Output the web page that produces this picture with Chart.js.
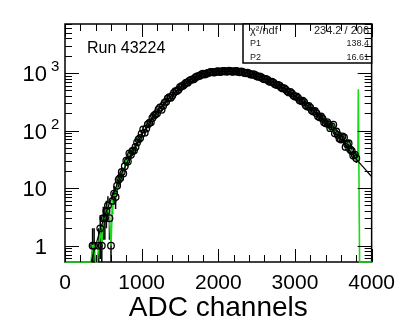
<!DOCTYPE html>
<html>
<head>
<meta charset="utf-8">
<script src="https://cdn.jsdelivr.net/npm/chart.js@4.4.0/dist/chart.umd.min.js"></script>
<style>
  html, body { margin: 0; padding: 0; background: #fff; }
</style>
</head>
<body>
<canvas id="adcChart" width="404" height="326"></canvas>
<script>
// ADC spectrum of run 43224, bins (counts per bin)
const adcBins = [360, 380, 400, 420, 440, 460, 480, 500, 520, 540, 560, 580, 600, 620, 640, 660,
  680, 700, 720, 740, 760, 780, 800, 820, 840, 860, 880, 900, 920, 940, 960, 980,
  1000, 1020, 1040, 1060, 1080, 1100, 1120, 1140, 1160, 1180, 1200, 1220, 1240, 1260, 1280, 1300,
  1320, 1340, 1360, 1380, 1400, 1420, 1440, 1460, 1480, 1500, 1520, 1540, 1560, 1580, 1600, 1620,
  1640, 1660, 1680, 1700, 1720, 1740, 1760, 1780, 1800, 1820, 1840, 1860, 1880, 1900, 1920, 1940,
  1960, 1980, 2000, 2020, 2040, 2060, 2080, 2100, 2120, 2140, 2160, 2180, 2200, 2220, 2240, 2260,
  2280, 2300, 2320, 2340, 2360, 2380, 2400, 2420, 2440, 2460, 2480, 2500, 2520, 2540, 2560, 2580,
  2600, 2620, 2640, 2660, 2680, 2700, 2720, 2740, 2760, 2780, 2800, 2820, 2840, 2860, 2880, 2900,
  2920, 2940, 2960, 2980, 3000, 3020, 3040, 3060, 3080, 3100, 3120, 3140, 3160, 3180, 3200, 3220,
  3240, 3260, 3280, 3300, 3320, 3340, 3360, 3380, 3400, 3420, 3440, 3460, 3480, 3500, 3520, 3540,
  3560, 3580, 3600, 3620, 3640, 3660, 3680, 3700, 3720, 3740, 3760, 3780, 3800];
const counts = [1, 1, 0, 0, 1, 2, 1, 3, 3, 4, 5, 3, 1, 6, 8, 7,
  11, 14, 15, 19, 18, 24, 30, 29, 40, 38, 44, 45, 52, 62, 70, 74,
  88, 105, 92, 108, 128, 135, 140, 165, 182, 190, 200, 232, 251, 230, 270, 305,
  318, 360, 380, 372, 405, 452, 482, 488, 510, 565, 590, 598, 640, 675, 680, 730,
  760, 772, 780, 835, 870, 880, 900, 945, 970, 940, 960, 1000, 1010, 1045, 1040, 1020,
  1030, 1065, 1075, 1040, 1050, 1080, 1090, 1055, 1060, 1095, 1085, 1050, 1055, 1090, 1080, 1045,
  1030, 1060, 1040, 1000, 990, 1010, 985, 945, 930, 955, 925, 880, 860, 870, 845, 800,
  780, 790, 765, 720, 700, 705, 680, 640, 620, 622, 600, 560, 540, 545, 515, 480,
  460, 470, 440, 405, 390, 392, 370, 335, 325, 330, 310, 275, 262, 268, 250, 222,
  214, 218, 200, 178, 170, 175, 160, 140, 134, 140, 128, 110, 118, 126, 90, 96,
  84, 73, 70, 79, 76, 52, 58, 60, 47, 44, 37, 38, 33];

// empty bins below the spectrum and the saturation spike above it (green line only)
const lowEdgeBins = [0, 340];
const lowEdgeCounts = [0, 0];
const highEdgeBins = [3820, 3826, 3843, 4000];
const highEdgeCounts = [29, 520, 0, 0];

// fitted curve
const fitX = [330, 400, 500, 600, 700, 800, 900, 1000, 1100, 1200, 1300, 1400, 1500, 1600, 1700,
  1800, 1900, 2000, 2100, 2200, 2300, 2400, 2500, 2600, 2700, 2800, 2900, 3000, 3100, 3200, 3300,
  3400, 3500, 3600, 3700, 3800, 3900, 4000];
const fitY = [0.45, 1.0, 2.8, 6.3, 13.5, 26.3, 47.9, 83.2, 135, 209, 302, 417, 550, 692, 832,
  955, 1023, 1059, 1072, 1072, 1047, 977, 891, 794, 692, 589, 490, 398, 316, 245, 186,
  138, 100, 69, 47, 32, 22.4, 15.8];

const yTickValues = [1, 10, 100, 1000];
const yTickBase = ["1", "10", "10", "10"];
const yTickExp = ["", "", "2", "3"];

const statNames = ["\u03C7\u00B2/ndf", "P1", "P2"];
const statValues = ["234.2 / 206", "138.4", "16.61"];
const runLabel = "Run 43224";

const FONT = "'Liberation Sans', Arial, sans-serif";
const GREEN = "#16dd16";
const Y_MIN = 0.52;

const toXY = (xs, ys) => xs.map((v, i) => ({ x: v, y: ys[i] }));

// frame and error bars go under the datasets
const errorBars = {
  id: "errorBars",
  beforeDatasetsDraw(chart) {
    const { ctx, chartArea: a, scales: { x, y } } = chart;
    ctx.save();
    ctx.strokeStyle = "#000";
    ctx.lineWidth = 1.5;
    ctx.strokeRect(a.left, a.top, a.right - a.left, a.bottom - a.top);

    ctx.beginPath();
    ctx.rect(a.left, a.top, a.right - a.left, a.bottom - a.top);
    ctx.clip();
    adcBins.forEach((b, i) => {
      const c = counts[i];
      if (!(c > 0)) return;
      const e = Math.sqrt(c);
      const px = x.getPixelForValue(b);
      const lo = c - e > y.min ? y.getPixelForValue(c - e) : a.bottom;
      ctx.beginPath();
      ctx.moveTo(px, y.getPixelForValue(c + e));
      ctx.lineTo(px, lo);
      ctx.stroke();
    });
    ctx.restore();
  }
};

// ROOT style overlay: stats box, inner ticks on all four sides, log labels
const rootFrame = {
  id: "rootFrame",
  afterDraw(chart) {
    const { ctx, chartArea: a, scales: { x, y } } = chart;
    ctx.save();

    // stats box
    const bx = 243, by = a.top, bw = a.right - bx, bh = 39;
    ctx.fillStyle = "#fff";
    ctx.fillRect(bx, by, bw, bh);
    ctx.strokeStyle = "#000";
    ctx.lineWidth = 1.5;
    ctx.strokeRect(bx, by, bw, bh);
    ctx.fillStyle = "#222";
    ctx.textBaseline = "middle";
    const rowY = [31, 43.5, 57.5];
    statNames.forEach((n, i) => {
      ctx.font = (i === 0 ? "11px " : "9px ") + FONT;
      ctx.textAlign = "left";
      ctx.fillText(n, 250, rowY[i]);
      ctx.textAlign = "right";
      ctx.fillText(statValues[i], 369, rowY[i]);
    });

    // run label
    ctx.fillStyle = "#000";
    ctx.font = "16px " + FONT;
    ctx.textAlign = "left";
    ctx.textBaseline = "alphabetic";
    ctx.fillText(runLabel, 87, 53);

    // ticks
    ctx.strokeStyle = "#000";
    ctx.lineWidth = 1;
    x.ticks.forEach(t => {
      const px = Math.round(x.getPixelForValue(t.value)) + 0.5;
      const len = t.value % 1000 === 0 ? 13 : 7;
      ctx.beginPath();
      ctx.moveTo(px, a.bottom); ctx.lineTo(px, a.bottom - len);
      ctx.moveTo(px, a.top); ctx.lineTo(px, a.top + len);
      ctx.stroke();
    });
    for (let k = -1; k <= 3; k++) {
      for (let m = 1; m <= 9; m++) {
        const v = m * Math.pow(10, k);
        if (v < y.min || v > y.max) continue;
        const py = Math.round(y.getPixelForValue(v)) + 0.5;
        const len = m === 1 ? 14 : 7;
        ctx.beginPath();
        ctx.moveTo(a.left, py); ctx.lineTo(a.left + len, py);
        ctx.moveTo(a.right, py); ctx.lineTo(a.right - len, py);
        ctx.stroke();
      }
    }

    // y labels, 10 with raised exponent
    yTickValues.forEach((v, i) => {
      const py = y.getPixelForValue(v);
      ctx.font = "22px " + FONT;
      ctx.textAlign = "right";
      ctx.textBaseline = "middle";
      ctx.fillText(yTickBase[i], 47, py + 2);
      if (yTickExp[i]) {
        ctx.font = "15px " + FONT;
        ctx.textAlign = "left";
        ctx.fillText(yTickExp[i], 51, py - 6);
      }
    });
    ctx.restore();
  }
};

// empty bins sit on the bottom of the frame, as ROOT draws them
const greenX = lowEdgeBins.concat(adcBins, highEdgeBins);
const greenY = lowEdgeCounts.concat(counts, highEdgeCounts).map(c => (c > 0 ? c : Y_MIN));

new Chart(document.getElementById("adcChart"), {
  type: "scatter",
  data: {
    datasets: [
      {
        label: "fit",
        data: toXY(fitX, fitY),
        showLine: true,
        borderColor: "#000",
        borderWidth: 1.2,
        pointRadius: 0,
        cubicInterpolationMode: "monotone",
        order: 0
      },
      {
        label: "data",
        data: toXY(adcBins, counts.map(c => (c > 0 ? c : null))),
        showLine: false,
        pointStyle: "circle",
        pointRadius: 3.3,
        pointBorderWidth: 1.3,
        pointBorderColor: "#000",
        pointBackgroundColor: "rgba(0,0,0,0)",
        order: 1
      },
      {
        label: "histogram",
        data: toXY(greenX, greenY),
        showLine: true,
        borderColor: GREEN,
        borderWidth: 1.6,
        pointRadius: 0,
        tension: 0,
        clip: 2,
        order: 2
      }
    ]
  },
  options: {
    responsive: false,
    devicePixelRatio: 1,
    animation: false,
    events: [],
    layout: { autoPadding: false, padding: { top: 24, right: 28, left: 0, bottom: 0 } },
    plugins: { legend: { display: false }, tooltip: { enabled: false } },
    scales: {
      x: {
        type: "linear",
        min: 0,
        max: 4000,
        afterFit: s => { s.height = 64; },
        grid: { display: false, drawTicks: false },
        border: { display: false },
        ticks: {
          stepSize: 200,
          autoSkip: false,
          maxRotation: 0,
          padding: 9,
          color: "#000",
          font: { family: FONT, size: 21 },
          callback: v => (v % 1000 === 0 ? String(v) : "")
        },
        title: {
          display: true,
          text: "ADC channels",
          color: "#000",
          font: { family: FONT, size: 28 },
          padding: { top: 0, bottom: 1 }
        }
      },
      y: {
        type: "logarithmic",
        min: Y_MIN,
        max: 7100,
        afterFit: s => { s.width = 65; },
        grid: { display: false, drawTicks: false },
        border: { display: false },
        ticks: { display: false }
      }
    }
  },
  plugins: [errorBars, rootFrame]
});
</script>
</body>
</html>
